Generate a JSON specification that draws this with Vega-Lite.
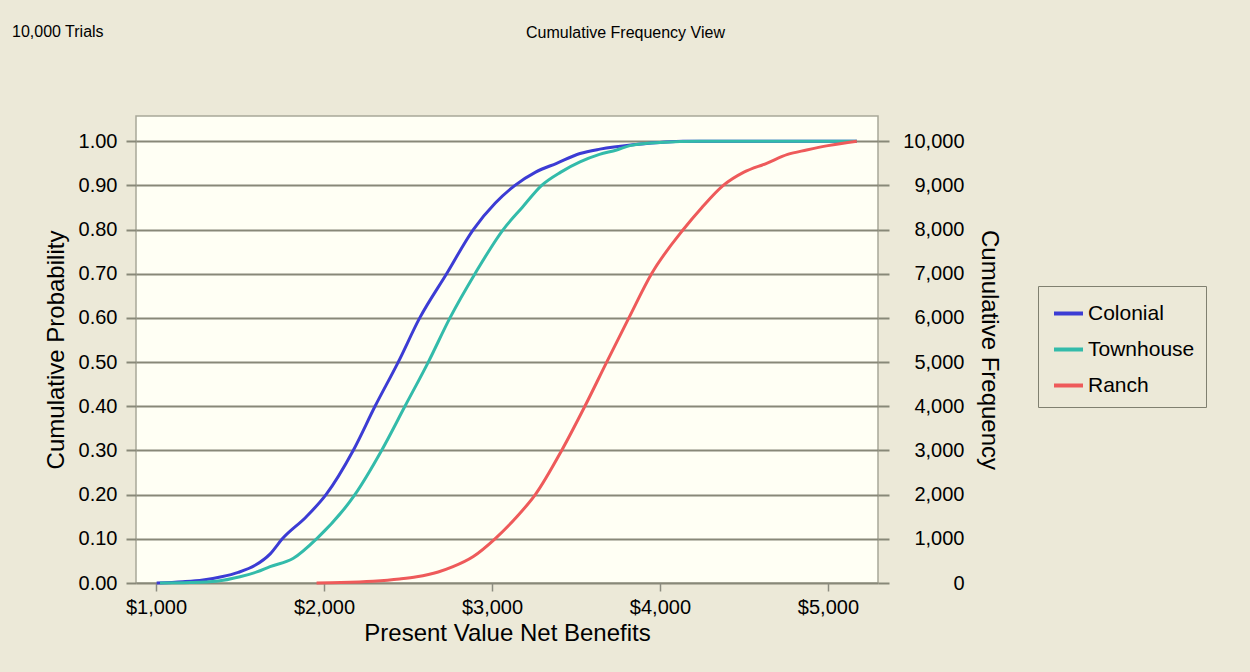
{
  "$schema": "https://vega.github.io/schema/vega-lite/v6.json",
  "width": 742,
  "height": 467,
  "autosize": "none",
  "padding": {"left": 136, "top": 116, "right": 372, "bottom": 89},
  "background": "#ECE9D8",
  "title": {"text": "10,000 Trials", "anchor": "start", "frame": "group", "dx": -124, "dy": 16, "offset": 0, "fontSize": 16, "font": "Liberation Sans", "fontWeight": "normal", "color": "#000000"},
  "data": {"values": [
    {"series": "Colonial", "value": 1004, "p": 0},
    {"series": "Colonial", "value": 1160, "p": 0.003},
    {"series": "Colonial", "value": 1280, "p": 0.007},
    {"series": "Colonial", "value": 1390, "p": 0.014},
    {"series": "Colonial", "value": 1490, "p": 0.024},
    {"series": "Colonial", "value": 1590, "p": 0.04},
    {"series": "Colonial", "value": 1680, "p": 0.066},
    {"series": "Colonial", "value": 1752, "p": 0.10},
    {"series": "Colonial", "value": 1895, "p": 0.15},
    {"series": "Colonial", "value": 2012, "p": 0.20},
    {"series": "Colonial", "value": 2174, "p": 0.30},
    {"series": "Colonial", "value": 2304, "p": 0.40},
    {"series": "Colonial", "value": 2442, "p": 0.50},
    {"series": "Colonial", "value": 2570, "p": 0.60},
    {"series": "Colonial", "value": 2730, "p": 0.70},
    {"series": "Colonial", "value": 2889, "p": 0.80},
    {"series": "Colonial", "value": 3020, "p": 0.86},
    {"series": "Colonial", "value": 3137, "p": 0.90},
    {"series": "Colonial", "value": 3260, "p": 0.93},
    {"series": "Colonial", "value": 3385, "p": 0.95},
    {"series": "Colonial", "value": 3524, "p": 0.972},
    {"series": "Colonial", "value": 3643, "p": 0.982},
    {"series": "Colonial", "value": 3839, "p": 0.992},
    {"series": "Colonial", "value": 4000, "p": 0.997},
    {"series": "Colonial", "value": 4137, "p": 1.0},
    {"series": "Colonial", "value": 5172, "p": 1.0},
    {"series": "Townhouse", "value": 1024, "p": 0},
    {"series": "Townhouse", "value": 1200, "p": 0.001},
    {"series": "Townhouse", "value": 1361, "p": 0.004},
    {"series": "Townhouse", "value": 1500, "p": 0.014},
    {"series": "Townhouse", "value": 1600, "p": 0.025},
    {"series": "Townhouse", "value": 1679, "p": 0.037},
    {"series": "Townhouse", "value": 1818, "p": 0.056},
    {"series": "Townhouse", "value": 1956, "p": 0.10},
    {"series": "Townhouse", "value": 2184, "p": 0.20},
    {"series": "Townhouse", "value": 2343, "p": 0.30},
    {"series": "Townhouse", "value": 2482, "p": 0.40},
    {"series": "Townhouse", "value": 2621, "p": 0.50},
    {"series": "Townhouse", "value": 2750, "p": 0.60},
    {"series": "Townhouse", "value": 2899, "p": 0.70},
    {"series": "Townhouse", "value": 3067, "p": 0.80},
    {"series": "Townhouse", "value": 3180, "p": 0.85},
    {"series": "Townhouse", "value": 3296, "p": 0.90},
    {"series": "Townhouse", "value": 3410, "p": 0.93},
    {"series": "Townhouse", "value": 3524, "p": 0.953},
    {"series": "Townhouse", "value": 3640, "p": 0.97},
    {"series": "Townhouse", "value": 3742, "p": 0.98},
    {"series": "Townhouse", "value": 3821, "p": 0.99},
    {"series": "Townhouse", "value": 4000, "p": 0.997},
    {"series": "Townhouse", "value": 4238, "p": 1.0},
    {"series": "Townhouse", "value": 5172, "p": 1.0},
    {"series": "Ranch", "value": 1956, "p": 0},
    {"series": "Ranch", "value": 2100, "p": 0.001},
    {"series": "Ranch", "value": 2292, "p": 0.004},
    {"series": "Ranch", "value": 2450, "p": 0.009},
    {"series": "Ranch", "value": 2552, "p": 0.014},
    {"series": "Ranch", "value": 2680, "p": 0.025},
    {"series": "Ranch", "value": 2768, "p": 0.037},
    {"series": "Ranch", "value": 2889, "p": 0.06},
    {"series": "Ranch", "value": 3018, "p": 0.10},
    {"series": "Ranch", "value": 3148, "p": 0.15},
    {"series": "Ranch", "value": 3258, "p": 0.20},
    {"series": "Ranch", "value": 3415, "p": 0.30},
    {"series": "Ranch", "value": 3553, "p": 0.40},
    {"series": "Ranch", "value": 3683, "p": 0.50},
    {"series": "Ranch", "value": 3815, "p": 0.60},
    {"series": "Ranch", "value": 3950, "p": 0.70},
    {"series": "Ranch", "value": 4139, "p": 0.80},
    {"series": "Ranch", "value": 4250, "p": 0.85},
    {"series": "Ranch", "value": 4377, "p": 0.90},
    {"series": "Ranch", "value": 4500, "p": 0.93},
    {"series": "Ranch", "value": 4635, "p": 0.95},
    {"series": "Ranch", "value": 4760, "p": 0.97},
    {"series": "Ranch", "value": 4873, "p": 0.98},
    {"series": "Ranch", "value": 5000, "p": 0.99},
    {"series": "Ranch", "value": 5172, "p": 1.0}
  ]},
  "layer": [
    {
      "mark": {"type": "line", "strokeWidth": 3, "interpolate": "monotone"},
      "encoding": {
        "x": {
          "field": "value", "type": "quantitative",
          "scale": {"domain": [881, 5298], "nice": false, "zero": false},
          "axis": {"orient": "bottom", "values": [1000, 2000, 3000, 4000, 5000], "format": "$,.0f", "title": "Present Value Net Benefits", "grid": false, "domain": false, "tickColor": "#8C8C80", "tickSize": 8, "tickWidth": 1.5, "labelPadding": 6, "titlePadding": 4}
        },
        "y": {
          "field": "p", "type": "quantitative",
          "scale": {"domain": [0, 1.057], "nice": false},
          "axis": {"orient": "left", "values": [0, 0.1, 0.2, 0.3, 0.4, 0.5, 0.6, 0.7, 0.8, 0.9, 1.0], "format": ".2f", "title": "Cumulative Probability", "grid": true, "gridColor": "#888878", "gridWidth": 2, "gridOpacity": 1, "tickColor": "#888878", "tickWidth": 2, "tickSize": 10, "domain": false, "labelPadding": 9, "titlePadding": 10}
        },
        "color": {
          "field": "series", "type": "nominal",
          "scale": {"domain": ["Colonial", "Townhouse", "Ranch"], "range": ["#3C3CD4", "#33BBAA", "#EE5A5A"]},
          "legend": {"orient": "none", "legendX": 902, "legendY": 170, "title": null, "strokeColor": "#808070", "fillColor": "#ECE9D8", "padding": 11, "symbolType": "stroke", "symbolSize": 841, "symbolStrokeWidth": 4, "labelFontSize": 21, "labelFont": "Liberation Sans", "labelColor": "#000000", "rowPadding": 9, "labelOffset": 3, "symbolOffset": 3}
        }
      }
    },
    {
      "mark": {"type": "line", "opacity": 0},
      "encoding": {
        "x": {
          "field": "value", "type": "quantitative",
          "scale": {"domain": [881, 5298], "nice": false, "zero": false},
          "axis": {"orient": "top", "title": "Cumulative Frequency View", "labels": false, "ticks": false, "domain": false, "grid": false, "titleX": 489, "titleY": -79, "titleAlign": "center", "titleBaseline": "alphabetic", "titleFontSize": 16}
        },
        "y": {
          "field": "p", "type": "quantitative",
          "scale": {"domain": [0, 1.057], "nice": false},
          "axis": {"orient": "right", "values": [0, 0.1, 0.2, 0.3, 0.4, 0.5, 0.6, 0.7, 0.8, 0.9, 1.0], "labelExpr": "format(datum.value * 10000, ',.0f')", "title": "Cumulative Frequency", "grid": false, "domain": false, "tickColor": "#888878", "tickWidth": 2, "tickSize": 11, "labelAlign": "right", "labelPadding": 75, "titlePadding": 12}
        },
        "detail": {"field": "series", "type": "nominal"}
      }
    }
  ],
  "resolve": {"scale": {"y": "independent"}, "axis": {"x": "independent"}},
  "config": {
    "font": "Liberation Sans",
    "axis": {"labelFont": "Liberation Sans", "labelFontSize": 20, "labelColor": "#000000", "titleFont": "Liberation Sans", "titleFontSize": 24, "titleFontWeight": "normal", "titleColor": "#000000"},
    "view": {"fill": "#FFFFF4", "stroke": "#A8A898", "strokeWidth": 1.5}
  }
}
